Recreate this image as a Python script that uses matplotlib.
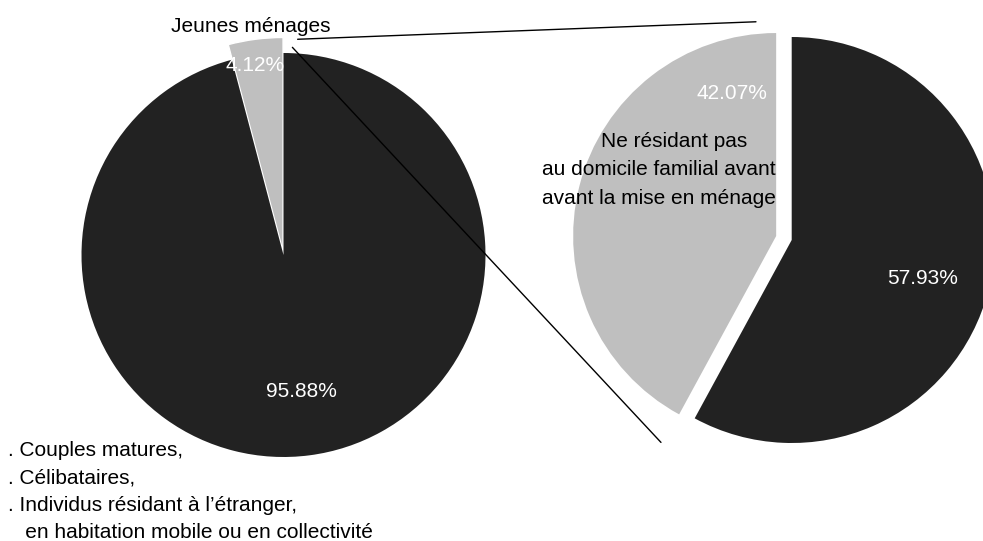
import matplotlib.pyplot as plt
from matplotlib.patches import ConnectionPatch

plt.rcParams['font.family'] = ['Liberation Sans', 'DejaVu Sans']

# data
main_labels = ['Jeunes ménages', 'Autres']
main_values = [4.12, 95.88]
zoom_labels = ['Ne résidant pas au domicile familial', 'Résidant au domicile familial']
zoom_values = [42.07, 57.93]
zoom_text = ['Ne résidant pas', 'au domicile familial avant', 'avant la mise en ménage']
other_lines = ['. Couples matures,', '. Célibataires,',
               '. Individus résidant à l\u2019étranger,',
               '   en habitation mobile ou en collectivité']

light = '#bfbfbf'
dark = '#222222'
W, H = 983, 541

fig = plt.figure(figsize=(W / 100, H / 100), dpi=100)


def pie_axes(cx, cy, r, lim=1.2):
    # cx, cy in pixels from top left, r = pie radius in pixels
    side = 2 * lim * r
    ax = fig.add_axes([(cx - lim * r) / W, (H - cy - lim * r) / H, side / W, side / H])
    return ax


# left pie
ax1 = pie_axes(283.5, 255, 202)
w1, t1, a1 = ax1.pie(main_values, colors=[light, dark], startangle=90, counterclock=True,
                     explode=[0.017, 0], autopct='%.2f%%', pctdistance=0.68,
                     textprops=dict(color='white', fontsize=15),
                     wedgeprops=dict(linewidth=0))
w1[0].set_radius(1.06)
w1[0].set_edgecolor('white')
w1[0].set_linewidth(1)
a1[0].set_position((-0.141, 0.94))
ax1.set_xlim(-1.2, 1.2)
ax1.set_ylim(-1.2, 1.2)
ax1.text(-0.161, 1.129, main_labels[0], ha='center', va='center', fontsize=15, color='black')

# right pie (zoom on "Jeunes ménages")
ax2 = pie_axes(791.7, 240, 203)
w2, t2, a2 = ax2.pie(zoom_values, colors=[light, dark], startangle=90, counterclock=True,
                     explode=[0.079, 0], autopct='%.2f%%', pctdistance=0.67,
                     textprops=dict(color='white', fontsize=15),
                     wedgeprops=dict(linewidth=0))
a2[0].set_position((-0.292, 0.723))
a2[1].set_position((0.646, -0.19))
ax2.set_xlim(-1.2, 1.2)
ax2.set_ylim(-1.2, 1.2)
ax2.text(-0.217, 0.484, zoom_text[0], ha='right', va='center', fontsize=15)
ax2.text(-0.077, 0.345, zoom_text[1], ha='right', va='center', fontsize=15)
ax2.text(-0.077, 0.205, zoom_text[2], ha='right', va='center', fontsize=15)

# connector lines
for p1, p2 in [((0.07, 1.068), (-0.176, 1.075)), ((0.044, 1.028), (-0.644, -0.997))]:
    con = ConnectionPatch(xyA=p1, coordsA=ax1.transData, xyB=p2, coordsB=ax2.transData,
                          color='black', linewidth=1)
    fig.add_artist(con)

# other categories
for i, line in enumerate(other_lines):
    fig.text(8 / W, 1 - (451 + 27.2 * i) / H, line, ha='left', va='center', fontsize=15)

fig.savefig('out.png', dpi=100)
